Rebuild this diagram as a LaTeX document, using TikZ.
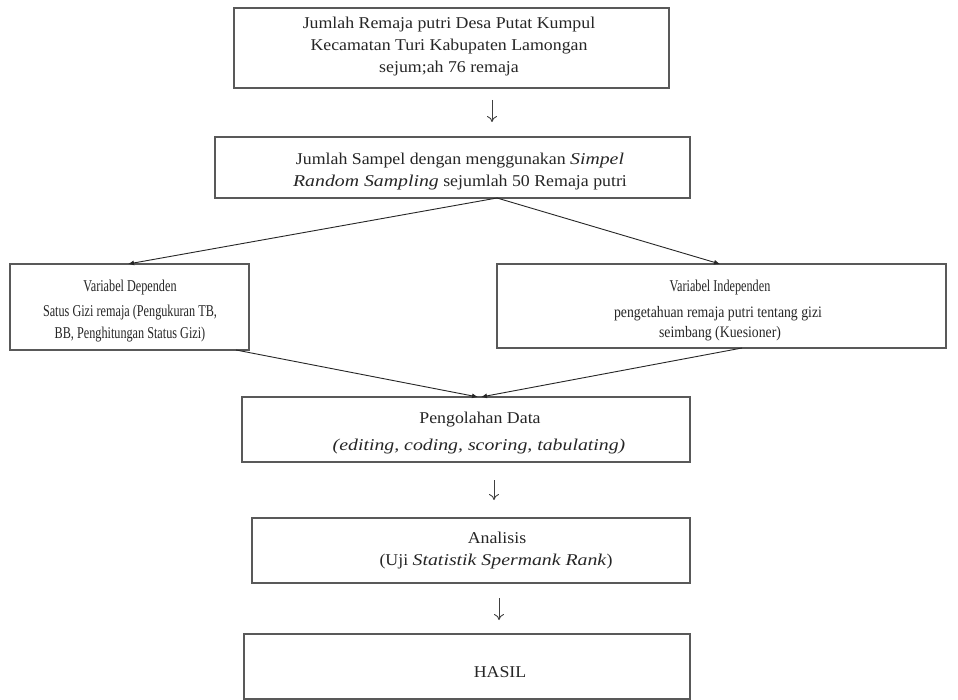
\documentclass[tikz,border=0pt]{standalone}
\usepackage{fontspec}
\setmainfont{Liberation Serif}[FakeStretch=1.08, ItalicFeatures={FakeStretch=1.2}]
\newfontfamily\condfont[FakeStretch=0.74]{Liberation Serif}
\newfontfamily\semifont[FakeStretch=0.86]{Liberation Serif}
\usetikzlibrary{arrows.meta}
\begin{document}
\begin{tikzpicture}[x=1pt,y=-1pt,
  box/.style={draw=black!65, line width=1.4pt, inner sep=0pt},
  txt/.style={inner sep=0pt, align=center, text=black!85,
    font=\fontsize{16.5}{22}\selectfont},
  ctxt/.style={txt, font=\condfont\fontsize{16.5}{24}\selectfont},
  stxt/.style={txt, font=\semifont\fontsize{16}{24}\selectfont},
  conn/.style={draw=black!85, line width=0.9pt},
  tip/.style={-{Latex[length=6pt,width=5pt]}},
  vdown/.style={draw=black!75, line width=0.9pt, -{To[length=6pt,width=10pt]}}]
\useasboundingbox[fill=white] (0,0) rectangle (958,700);

% boxes
\node[box, minimum width=435pt, minimum height=80pt] (b1) at (451.5,48) {};
\node[box, minimum width=475pt, minimum height=61pt] (b2) at (452.5,167.5) {};
\node[box, minimum width=239pt, minimum height=86pt] (bl) at (129.5,307) {};
\node[box, minimum width=449pt, minimum height=84pt] (br) at (721.5,306) {};
\node[box, minimum width=448pt, minimum height=65pt] (bp) at (466,429.5) {};
\node[box, minimum width=438pt, minimum height=65pt] (ba) at (471,550.5) {};
\node[box, minimum width=446pt, minimum height=65pt] (bh) at (467,666.5) {};

% texts
\node[txt] (t1) at (449,47)
  {Jumlah Remaja putri Desa Putat Kumpul\\Kecamatan Turi Kabupaten Lamongan\\sejum;ah 76 remaja};
\node[txt] (t2) at (460,172)
  {Jumlah Sampel dengan menggunakan \textit{Simpel}\\\textit{Random Sampling} sejumlah 50 Remaja putri};
\node[ctxt] (tl1) at (130,288) {Variabel Dependen};
\node[ctxt] (tl2) at (130,313) {Satus Gizi remaja (Pengukuran TB,};
\node[ctxt] (tl3) at (130,335) {BB, Penghitungan Status Gizi)};
\node[ctxt] (tr1) at (720,288) {Variabel Independen};
\node[stxt] (tr2) at (718,314) {pengetahuan remaja putri tentang gizi};
\node[stxt] (tr3) at (720,334) {seimbang (Kuesioner)};
\node[txt] (tp1) at (480,420) {Pengolahan Data};
\node[txt] (tp2) at (479,447) {\textit{(editing, coding, scoring, tabulating)}};
\node[txt] (ta1) at (497,538) {Analisis};
\node[txt] (ta2) at (496,562) {(Uji \textit{Statistik Spermank Rank})};
\node[txt] (th) at (500,672) {HASIL};

% vertical arrows
\coordinate (a1s) at (492,100); \coordinate (a1e) at (492,122);
\coordinate (a2s) at (494,480); \coordinate (a2e) at (494,500);
\coordinate (a3s) at (499,598); \coordinate (a3e) at (499,620);
\draw[vdown] (a1s) -- (a1e);
\draw[vdown] (a2s) -- (a2e);
\draw[vdown] (a3s) -- (a3e);

% diverging connectors
\coordinate (apex) at (497,198);
\coordinate (tl) at (128,264);
\coordinate (tr) at (720,264);
\draw[conn, tip] (apex) -- (tl);
\draw[conn, tip] (apex) -- (tr);

% converging connectors
\coordinate (sl) at (236,350);
\coordinate (sr) at (742,348);
\coordinate (ml) at (478,397);
\coordinate (mr) at (481,397);
\draw[conn, tip] (sl) -- (ml);
\draw[conn, tip] (sr) -- (mr);
\end{tikzpicture}
\end{document}
